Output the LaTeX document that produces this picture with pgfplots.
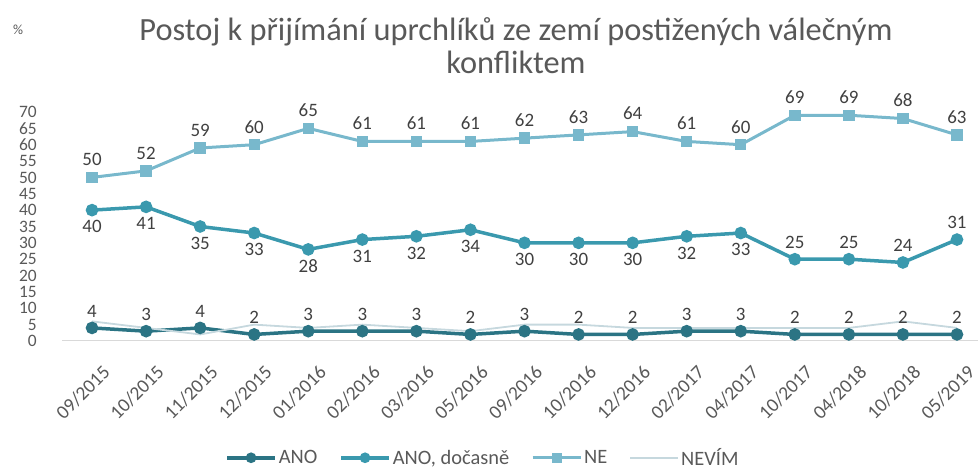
\documentclass[border=0pt]{standalone}
\usepackage{pgfplots}
\pgfplotsset{compat=1.18}
\usepackage{fontspec}
\setmainfont{Carlito}
\definecolor{cNE}{HTML}{78B8CC}
\definecolor{cDOC}{HTML}{3A99AE}
\definecolor{cANO}{HTML}{2B7484}
\definecolor{cNEV}{HTML}{C6D8DE}
\definecolor{txt}{HTML}{595959}
\definecolor{lbl}{HTML}{404040}
\begin{document}
\begin{tikzpicture}[x=1bp,y=1bp]
\useasboundingbox (0,0) rectangle (978,469);
\node[text=txt, font=\fontsize{14}{16}\selectfont] at (18,439) {\%};
\node[text=txt, font=\fontsize{32.5}{33}\selectfont, align=center] at (516,423) {Postoj k přijímání uprchlíků ze zemí postižených válečným\\konfliktem};
\begin{axis}[
  at={(62.3bp,128bp)}, anchor=south west,
  scale only axis, width=916.3bp, height=229bp,
  xmin=-0.55, xmax=16.4, ymin=0, ymax=70,
  /pgf/number format/assume math mode=true,
  axis lines=left, axis line style={-},
  y axis line style={draw=none},
  x axis line style={draw=black!15, line width=1bp},
  major tick length=0pt,
  xtick={0,...,16},
  xticklabels={09/2015,10/2015,11/2015,12/2015,01/2016,02/2016,03/2016,05/2016,09/2016,10/2016,12/2016,02/2017,04/2017,10/2017,04/2018,10/2018,05/2019},
  xticklabel style={rotate=45, anchor=east, text=txt, font=\fontsize{19.5}{21}\selectfont, yshift=-30bp, xshift=-6bp},
  ytick={0,5,...,70},
  yticklabel style={text=txt, font=\fontsize{17.5}{14}\selectfont, xshift=-22bp},
  clip=false,
  nodes near coords style={text=lbl, font=\fontsize{19}{21}\selectfont},
  legend style={draw=none, fill=none, at={(0.459,-0.51)}, anchor=center,
    font=\fontsize{20.5}{22}\selectfont, text=txt, legend columns=4,
    /tikz/every even column/.append style={column sep=20bp}},
  legend cell align=left,
  legend image code/.code={\draw[mark repeat=2,mark phase=2,mark size=3.5bp,#1] plot coordinates {(0bp,0bp) (24bp,0bp) (48bp,0bp)};},
]
% ANO
\addplot[cANO, line width=3.5bp, mark=*, mark size=4.5bp] coordinates {
(0,4)(1,3)(2,4)(3,2)(4,3)(5,3)(6,3)(7,2)(8,3)(9,2)(10,2)(11,3)(12,3)(13,2)(14,2)(15,2)(16,2)};
\addlegendentry{ANO}
% ANO, docasne
\addplot[cDOC, line width=3.5bp, mark=*, mark size=4.5bp] coordinates {
(0,40)(1,41)(2,35)(3,33)(4,28)(5,31)(6,32)(7,34)(8,30)(9,30)(10,30)(11,32)(12,33)(13,25)(14,25)(15,24)(16,31)};
\addlegendentry{ANO, dočasně}
% NE
\addplot[cNE, line width=3bp, mark=square*, mark size=4.2bp] coordinates {
(0,50)(1,52)(2,59)(3,60)(4,65)(5,61)(6,61)(7,61)(8,62)(9,63)(10,64)(11,61)(12,60)(13,69)(14,69)(15,68)(16,63)};
\addlegendentry{NE}
% NEVIM
\addplot[cNEV, line width=1.8bp, mark=none] coordinates {
(0,6)(1,4)(2,2)(3,5)(4,4)(5,5)(6,4)(7,3)(8,5)(9,5)(10,4)(11,4)(12,4)(13,4)(14,4)(15,6)(16,4)};
\addlegendentry{NEVÍM}
% labels
\addplot[draw=none, mark=none, forget plot, nodes near coords, nodes near coords align={above}, every node near coord/.append style={yshift=7bp}] coordinates {
(0,4)(1,3)(2,4)(3,2)(4,3)(5,3)(6,3)(7,2)(8,3)(9,2)(10,2)(11,3)(12,3)(13,2)(14,2)(15,2)(16,2)};
\addplot[draw=none, mark=none, forget plot, nodes near coords, nodes near coords align={below}, every node near coord/.append style={yshift=-7bp}] coordinates {
(0,40)(1,41)(2,35)(3,33)(4,28)(5,31)(6,32)(7,34)(8,30)(9,30)(10,30)(11,32)(12,33)};
\addplot[draw=none, mark=none, forget plot, nodes near coords, nodes near coords align={above}, every node near coord/.append style={yshift=7bp}] coordinates {
(13,25)(14,25)(15,24)(16,31)};
\addplot[draw=none, mark=none, forget plot, nodes near coords, nodes near coords align={above}, every node near coord/.append style={yshift=8bp}] coordinates {
(0,50)(1,52)(2,59)(3,60)(4,65)(5,61)(6,61)(7,61)(8,62)(9,63)(10,64)(11,61)(12,60)(13,69)(14,69)(15,68)(16,63)};
\end{axis}
\end{tikzpicture}
\end{document}
